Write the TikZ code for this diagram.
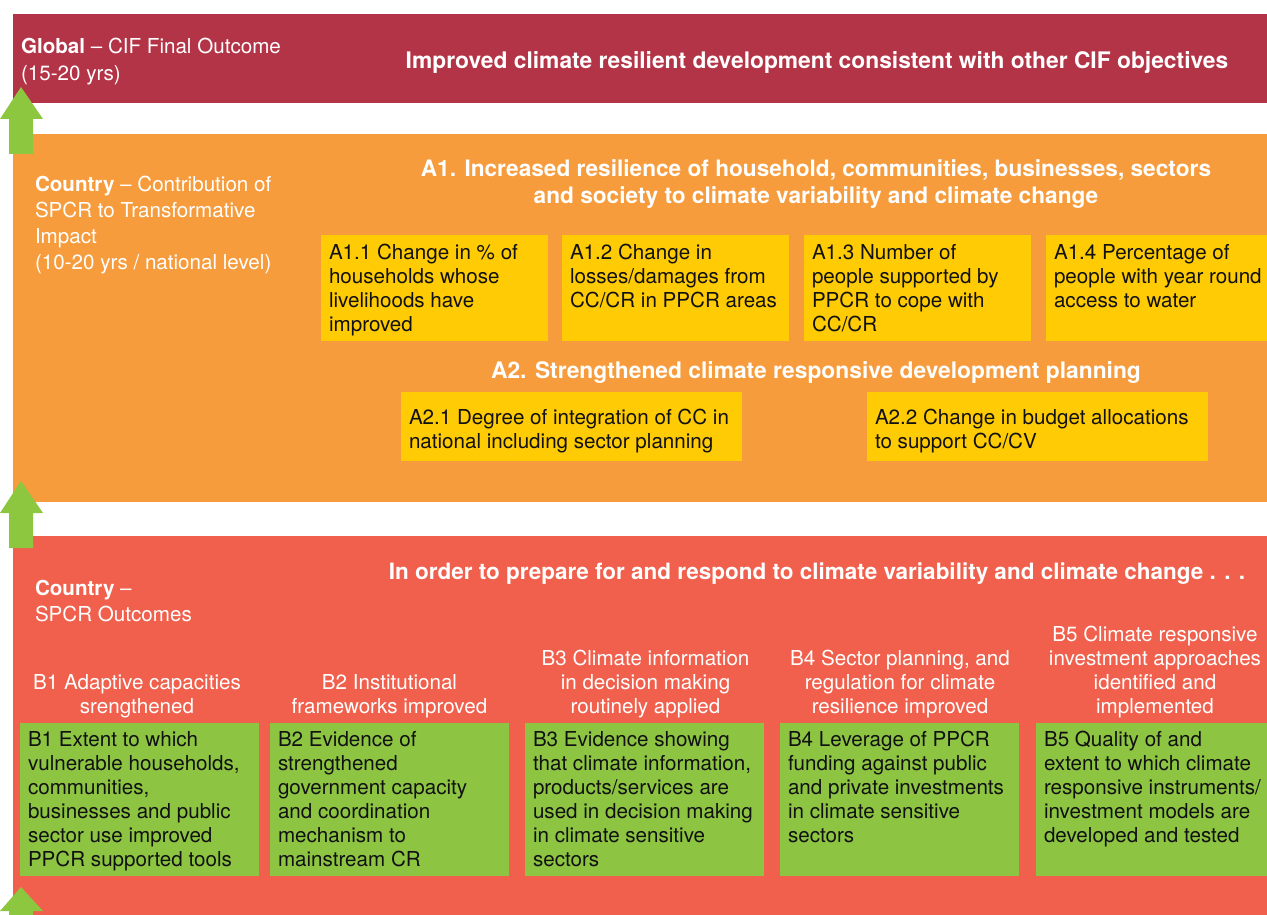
\documentclass[tikz,border=0pt]{standalone}
\usepackage{fontspec}
\setmainfont{TeX Gyre Heros}
\definecolor{crimson}{RGB}{180,52,71}
\definecolor{orangeband}{RGB}{247,156,61}
\definecolor{redband}{RGB}{240,96,76}
\definecolor{yellowbox}{RGB}{255,203,5}
\definecolor{greenbox}{RGB}{141,197,67}
\definecolor{arrowgreen}{RGB}{141,198,63}
\definecolor{ink}{RGB}{17,17,17}
\tikzset{
  band/.style={draw=none, inner sep=0, outer sep=0, anchor=north west, minimum width=1254pt},
  ybox/.style={fill=yellowbox, draw=none, inner sep=0, outer sep=0, anchor=north west, minimum height=106pt},
  y2box/.style={fill=yellowbox, draw=none, inner sep=0, outer sep=0, anchor=north west, minimum width=341pt, minimum height=69pt},
  gbox/.style={fill=greenbox, draw=none, inner sep=0, outer sep=0, anchor=north west, minimum height=153pt},
  boxtext/.style={font=\fontsize{20.6}{24}\selectfont, text=ink, inner sep=0, outer sep=0, align=left, anchor=north west},
  sidetext/.style={font=\fontsize{20.6}{26}\selectfont, text=white, inner sep=0, outer sep=0, align=left, anchor=north west},
  headtext/.style={font=\fontsize{22.8}{27}\selectfont\bfseries, text=white, inner sep=0, outer sep=0, align=center},
  btitle/.style={font=\fontsize{20.6}{24}\selectfont, text=white, inner sep=0, outer sep=0, align=center, anchor=north},
  uparrow/.style={fill=arrowgreen, draw=none}
}
\begin{document}
\begin{tikzpicture}[x=1pt,y=-1pt]
\useasboundingbox (0,0) rectangle (1267,915);
% bands
\node[band, fill=crimson, minimum height=89pt] (global) at (13,14) {};
\node[band, fill=orangeband, minimum height=368pt] (countryA) at (13,134) {};
\node[band, fill=redband, minimum height=379pt] (countryB) at (13,536) {};
% block arrows
\fill[uparrow] (9,154) -- (9,119) -- (0,119) -- (21,87) -- (43,119) -- (33,119) -- (33,154) -- cycle;
\fill[uparrow] (9,548) -- (9,513) -- (0,513) -- (21,481) -- (43,513) -- (33,513) -- (33,548) -- cycle;
\fill[uparrow] (9,915) -- (9,911) -- (0,911) -- (21,887) -- (43,911) -- (33,911) -- (33,915) -- cycle;
% global band
\node[sidetext, font=\fontsize{20.6}{27}\selectfont] (globallbl) at (21,34.6) {\strut\textbf{Global} -- CIF Final Outcome\\(15-20 yrs)};
\node[headtext, anchor=base] (globaltitle) at (817,68.5) {Improved climate resilient development consistent with other CIF objectives};
% country A band
\node[sidetext] (countryAlbl) at (35,173.5) {\strut\textbf{Country} -- Contribution of\\SPCR to Transformative\\Impact\\(10-20 yrs / national level)};
\node[headtext, anchor=north, font=\fontsize{22.65}{27}\selectfont\bfseries] (a1head) at (816,157.8) {\strut A1. Increased resilience of household, communities, businesses, sectors\\and society to climate variability and climate change};
\node[ybox, minimum width=227pt] (a11) at (321,235) {};
\node[ybox, minimum width=227pt] (a12) at (562,235) {};
\node[ybox, minimum width=227pt] (a13) at (804,235) {};
\node[ybox, minimum width=221pt] (a14) at (1046,235) {};
\node[boxtext] (a11t) at (329,242.6) {\strut A1.1 Change in \% of\\households whose\\livelihoods have\\improved};
\node[boxtext] (a12t) at (570,242.6) {\strut A1.2 Change in\\losses/damages from\\CC/CR in PPCR areas};
\node[boxtext] (a13t) at (812,242.6) {\strut A1.3 Number of\\people supported by\\PPCR to cope with\\CC/CR};
\node[boxtext] (a14t) at (1054,242.6) {\strut A1.4 Percentage of\\people with year round\\access to water};
\node[headtext, anchor=base] (a2head) at (816,378) {A2. Strengthened climate responsive development planning};
\node[y2box] (a21) at (401,392) {};
\node[y2box] (a22) at (867,392) {};
\node[boxtext] (a21t) at (409,407.2) {\strut A2.1 Degree of integration of CC in\\national including sector planning};
\node[boxtext] (a22t) at (875,407.2) {\strut A2.2 Change in budget allocations\\to support CC/CV};
% country B band
\node[sidetext] (countryBlbl) at (35,577.3) {\strut\textbf{Country} --\\SPCR Outcomes};
\node[headtext, anchor=base, font=\fontsize{22.5}{27}\selectfont\bfseries] (bhead) at (817,579) {In order to prepare for and respond to climate variability and climate change . . .};
\node[btitle] (b1h) at (137,672.8) {\strut B1 Adaptive capacities\\srengthened};
\node[btitle] (b2h) at (389.5,672.8) {\strut B2 Institutional\\frameworks improved};
\node[btitle] (b3h) at (645.5,648.8) {\strut B3 Climate information\\in decision making\\routinely applied};
\node[btitle] (b4h) at (900,648.8) {\strut B4 Sector planning, and\\regulation for climate\\resilience improved};
\node[btitle] (b5h) at (1155,624.8) {\strut B5 Climate responsive\\investment approaches\\identified and\\implemented};
\node[gbox, minimum width=239pt] (b1) at (20,723) {};
\node[gbox, minimum width=239pt] (b2) at (270,723) {};
\node[gbox, minimum width=239pt] (b3) at (525,723) {};
\node[gbox, minimum width=239pt] (b4) at (780,723) {};
\node[gbox, minimum width=231pt] (b5) at (1036,723) {};
\node[boxtext] (b1t) at (28,729.6) {\strut B1 Extent to which\\vulnerable households,\\communities,\\businesses and public\\sector use improved\\PPCR supported tools};
\node[boxtext] (b2t) at (278,729.6) {\strut B2 Evidence of\\strengthened\\government capacity\\and coordination\\mechanism to\\mainstream CR};
\node[boxtext] (b3t) at (533,729.6) {\strut B3 Evidence showing\\that climate information,\\products/services are\\used in decision making\\in climate sensitive\\sectors};
\node[boxtext] (b4t) at (788,729.6) {\strut B4 Leverage of PPCR\\funding against public\\and private investments\\in climate sensitive\\sectors};
\node[boxtext] (b5t) at (1044,729.6) {\strut B5 Quality of and\\extent to which climate\\responsive instruments/\\investment models are\\developed and tested};
\end{tikzpicture}
\end{document}
